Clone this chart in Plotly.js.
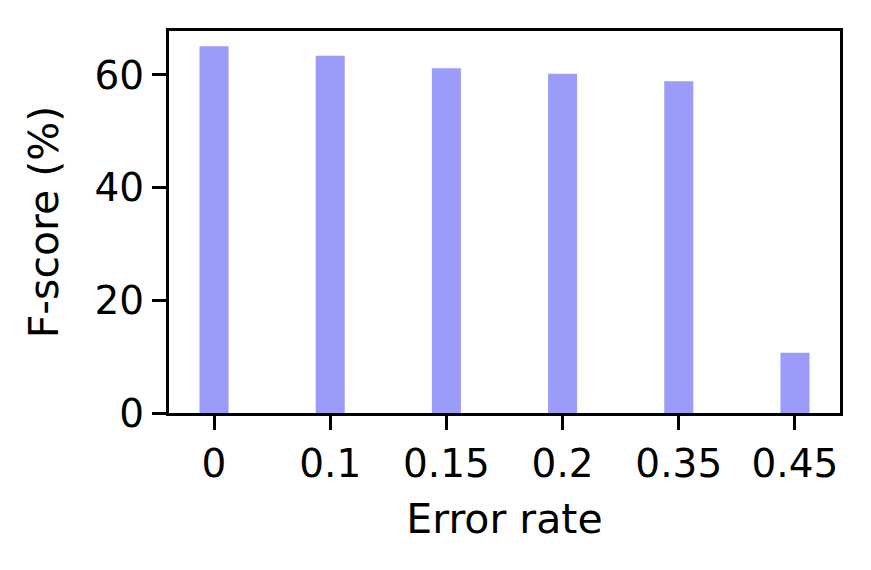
<!DOCTYPE html>
<html>
<head>
<meta charset="utf-8">
<script src="https://cdn.plot.ly/plotly-3.0.1.min.js"></script>
<style>
  html, body { margin: 0; padding: 0; background: white; }
  #myDiv { width: 871px; height: 570px; }
</style>
</head>
<body>
<div id="myDiv"></div>
<script>
var errorRates = ['0', '0.1', '0.15', '0.2', '0.35', '0.45'];
var fScores = [65.1, 63.4, 61.2, 60.2, 58.9, 10.7];
var yTicks = [0, 20, 40, 60];

var tick_font = {
  family: 'DejaVu Sans, sans-serif',
  size: 39,
  color: 'black'
};
var title_font = {
  family: 'DejaVu Sans, sans-serif',
  size: 41,
  color: 'black'
};

var trace1 = {
  x: errorRates,
  y: fScores,
  type: 'bar',
  width: 0.25,
  marker: {color: 'rgb(155,155,250)', line: {width: 0}},
  hoverinfo: 'x+y'
};

var layout = {
  width: 871,
  height: 570,
  margin: {l: 169, r: 31, t: 31, b: 157},
  paper_bgcolor: 'white',
  plot_bgcolor: 'white',
  font: tick_font,
  showlegend: false,
  xaxis: {
    type: 'category',
    range: [-0.3875, 5.3875],
    title: {text: 'Error rate', font: title_font, standoff: 20},
    tickfont: tick_font,
    showgrid: false,
    zeroline: false,
    showline: true,
    mirror: true,
    linecolor: 'black',
    linewidth: 3,
    ticks: 'outside',
    ticklen: 14,
    tickwidth: 3,
    tickcolor: 'black',
    automargin: false
  },
  yaxis: {
    range: [0, 67.8],
    tickvals: yTicks,
    title: {text: 'F-score (%)', font: title_font, standoff: 24},
    tickfont: tick_font,
    showgrid: false,
    zeroline: false,
    showline: true,
    mirror: true,
    linecolor: 'black',
    linewidth: 3,
    ticks: 'outside',
    ticklen: 14,
    tickwidth: 3,
    tickcolor: 'black',
    automargin: false
  }
};

Plotly.newPlot('myDiv', [trace1], layout, {displayModeBar: false, staticPlot: true});
</script>
</body>
</html>
